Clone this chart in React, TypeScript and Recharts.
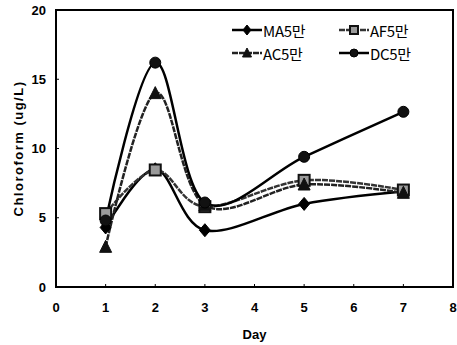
import React from 'react';
import { LineChart, Line, XAxis, YAxis, ReferenceArea } from 'recharts';

const days = [1, 2, 3, 5, 7];
const seriesNames = ['MA5만', 'AF5만', 'AC5만', 'DC5만'];
const maValues = [4.3, 8.5, 4.1, 6.0, 6.9];
const afValues = [5.3, 8.45, 5.8, 7.7, 7.0];
const acValues = [2.9, 14.0, 5.9, 7.4, 6.8];
const dcValues = [4.8, 16.2, 6.1, 9.4, 12.65];
const xTicks = [0, 1, 2, 3, 4, 5, 6, 7, 8];
const yTicks = [0, 5, 10, 15, 20];

const data = days.map((d, i) => ({
  day: d,
  ma: maValues[i],
  af: afValues[i],
  ac: acValues[i],
  dc: dcValues[i],
}));

// Cardinal (Catmull-Rom like) curve factory, similar to Excel smoothing
function cardinalCurve(context: any) {
  const k = 1 / 6;
  let x0 = NaN, x1 = NaN, x2 = NaN, y0 = NaN, y1 = NaN, y2 = NaN;
  let pt = 0;
  let line: number = NaN;
  const seg = (x: number, y: number) => {
    context.bezierCurveTo(
      x1 + k * (x2 - x0),
      y1 + k * (y2 - y0),
      x2 + k * (x1 - x),
      y2 + k * (y1 - y),
      x2,
      y2
    );
  };
  return {
    areaStart() { line = 0; },
    areaEnd() { line = NaN; },
    lineStart() { x0 = x1 = x2 = y0 = y1 = y2 = NaN; pt = 0; },
    lineEnd() {
      switch (pt) {
        case 2: context.lineTo(x2, y2); break;
        case 3: seg(x1, y1); break;
      }
      if (line || (line !== 0 && pt === 1)) context.closePath();
      line = 1 - line;
    },
    point(x: number, y: number) {
      x = +x; y = +y;
      switch (pt) {
        case 0: pt = 1; line ? context.lineTo(x, y) : context.moveTo(x, y); break;
        case 1: pt = 2; x1 = x; y1 = y; break;
        case 2: pt = 3; seg(x, y); break;
        default: seg(x, y); break;
      }
      x0 = x1; x1 = x2; x2 = x;
      y0 = y1; y1 = y2; y2 = y;
    },
  };
}

type Shape = 'diamond' | 'square' | 'triangle' | 'circle';

function Marker({ cx, cy, shape, s = 5 }: { cx: number; cy: number; shape: Shape; s?: number }) {
  if (cx == null || cy == null) return null;
  if (shape === 'diamond') {
    return <polygon points={`${cx},${cy - s - 1} ${cx + s},${cy} ${cx},${cy + s + 1} ${cx - s},${cy}`} fill="#000" stroke="#000" strokeWidth={1} />;
  }
  if (shape === 'square') {
    return <rect x={cx - s} y={cy - s} width={2 * s} height={2 * s} fill="#9a9a9a" stroke="#111" strokeWidth={2} />;
  }
  if (shape === 'triangle') {
    return <polygon points={`${cx},${cy - s - 1} ${cx + s + 0.5},${cy + s} ${cx - s - 0.5},${cy + s}`} fill="#111" stroke="#111" strokeWidth={1} />;
  }
  return <circle cx={cx} cy={cy} r={s} fill="#111" stroke="#000" strokeWidth={1} />;
}

const shapes: Shape[] = ['diamond', 'square', 'triangle', 'circle'];
const keys = ['ma', 'af', 'ac', 'dc'];
const strokes = ['#000', '#333', '#222', '#000'];
const dashes = [undefined, '6 1', '6 1', undefined];

const LegendBox = () => (
  <div
    style={{
      position: 'absolute',
      left: 232,
      top: 21,
      display: 'grid',
      gridTemplateColumns: '107px 90px',
      rowGap: 5,
      fontFamily: '"Noto Sans CJK KR", "Liberation Sans", sans-serif',
      fontSize: 15,
      color: '#000',
    }}
  >
    {seriesNames.map((name, i) => (
      <div key={name} style={{ display: 'flex', alignItems: 'center', height: 18 }}>
        <svg width={30} height={14} style={{ marginRight: 1 }}>
          <line x1={0} y1={7} x2={30} y2={7} stroke={strokes[i]} strokeWidth={2.5} strokeDasharray={dashes[i]} />
          <Marker cx={15} cy={7} shape={shapes[i]} s={4} />
        </svg>
        <span style={{ letterSpacing: -0.3 }}>{name}</span>
      </div>
    ))}
  </div>
);

const tickStyle = { fontFamily: '"Liberation Sans", Arial, sans-serif', fontSize: 13, fontWeight: 700, fill: '#000' };

export default function App() {
  return (
    <div style={{ position: 'absolute', left: 0, top: 0, width: 457, height: 345, background: '#fff' }}>
      <LineChart width={457} height={345} data={data} margin={{ top: 10, right: 4, bottom: 0, left: 0 }}>
        <XAxis
          dataKey="day"
          type="number"
          domain={[0, 8]}
          ticks={xTicks}
          interval={0}
          height={58}
          axisLine={{ stroke: '#000', strokeWidth: 2 }}
          tickLine={{ stroke: '#000', strokeWidth: 1 }}
          tickSize={-3}
          tickMargin={19}
          tick={tickStyle}
          label={{ value: 'Day', position: 'insideBottom', offset: 6, style: { ...tickStyle, fontSize: 13 } }}
        />
        <YAxis
          type="number"
          domain={[0, 20]}
          ticks={yTicks}
          interval={0}
          width={56}
          axisLine={{ stroke: '#000', strokeWidth: 2 }}
          tickLine={{ stroke: '#000', strokeWidth: 1 }}
          tickSize={-3}
          tickMargin={13}
          tick={tickStyle}
          label={{
            value: 'Chloroform (ug/L)',
            angle: -90,
            position: 'insideLeft',
            offset: 18,
            style: { ...tickStyle, fontSize: 13, letterSpacing: 1.5, textAnchor: 'middle' },
          }}
        />
        <ReferenceArea x1={0} x2={8} y1={0} y2={20} fill="none" stroke="#000" strokeWidth={2} ifOverflow="visible" />
        {keys.map((k, i) => (
          <Line
            key={k}
            dataKey={k}
            name={seriesNames[i]}
            type={cardinalCurve as any}
            stroke={strokes[i]}
            strokeWidth={2.5}
            strokeDasharray={dashes[i]}
            isAnimationActive={false}
            dot={(p: any) => <Marker key={`${k}-${p.index}`} cx={p.cx} cy={p.cy} shape={shapes[i]} s={5.5} />}
            activeDot={false}
          />
        ))}
      </LineChart>
      <LegendBox />
    </div>
  );
}
